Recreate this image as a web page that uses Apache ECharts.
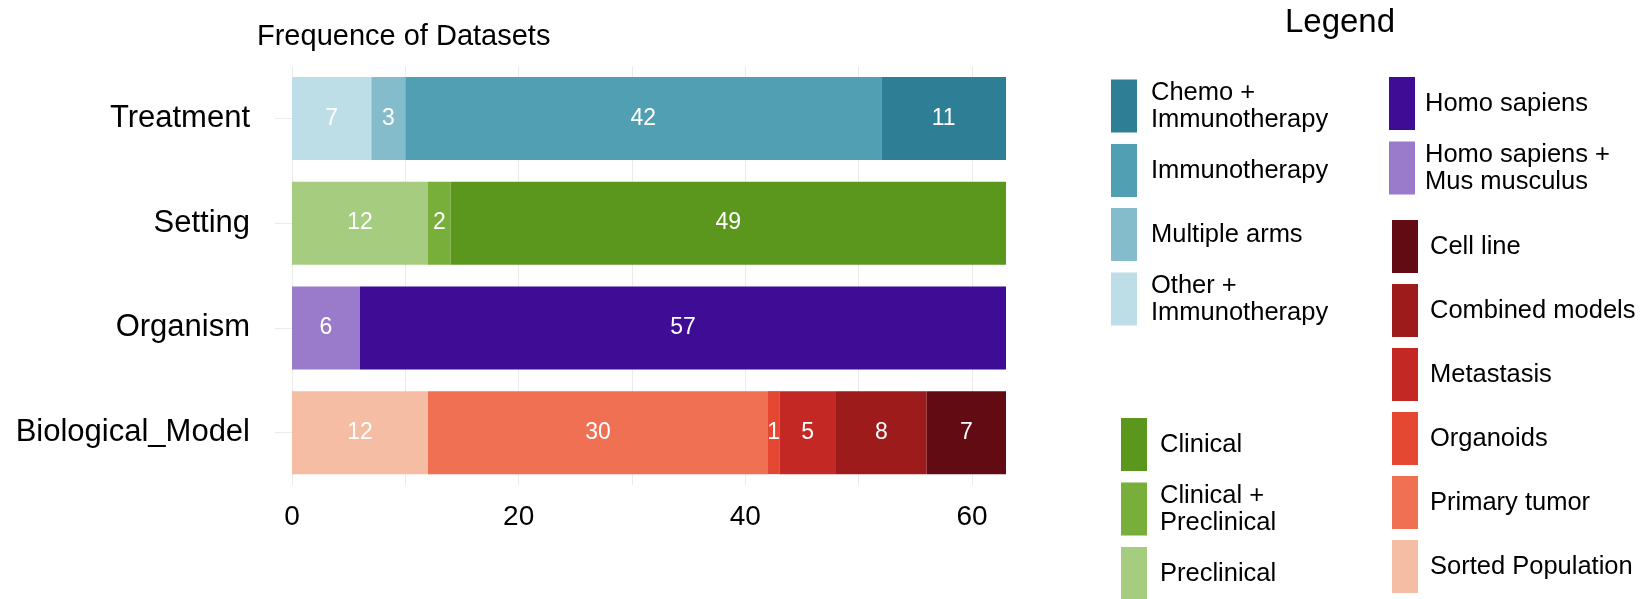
<!DOCTYPE html>
<html>
<head>
<meta charset="utf-8">
<script src="https://cdn.jsdelivr.net/npm/echarts@6/dist/echarts.min.js"></script>
<style>
  html, body { margin: 0; padding: 0; background: #fff; }
  #main { width: 1647px; height: 599px; }
</style>
</head>
<body>
<div id="main"></div>
<script>
// categories, bottom to top
var categories = ['Biological_Model', 'Organism', 'Setting', 'Treatment'];

// levels left to right inside each bar
var treatmentLevels = ['Other + Immunotherapy', 'Multiple arms', 'Immunotherapy', 'Chemo + Immunotherapy'];
var treatmentCounts = [7, 3, 42, 11];
var treatmentColors = ['#bddee6', '#85bccb', '#519fb3', '#2e7f96'];

var settingLevels = ['Preclinical', 'Clinical + Preclinical', 'Clinical'];
var settingCounts = [12, 2, 49];
var settingColors = ['#a6cc80', '#78ae3a', '#5a971c'];

var organismLevels = ['Homo sapiens + Mus musculus', 'Homo sapiens'];
var organismCounts = [6, 57];
var organismColors = ['#9a7bcb', '#3f0c96'];

var modelLevels = ['Sorted Population', 'Primary tumor', 'Organoids', 'Metastasis', 'Combined models', 'Cell line'];
var modelCounts = [12, 30, 1, 5, 8, 7];
var modelColors = ['#f6bda5', '#f07053', '#e44732', '#c42825', '#9e1b1c', '#630b12'];

var xTicks = [0, 20, 40, 60];

var groups = [
  {cat: 'Treatment', levels: treatmentLevels, counts: treatmentCounts, colors: treatmentColors},
  {cat: 'Setting', levels: settingLevels, counts: settingCounts, colors: settingColors},
  {cat: 'Organism', levels: organismLevels, counts: organismCounts, colors: organismColors},
  {cat: 'Biological_Model', levels: modelLevels, counts: modelCounts, colors: modelColors}
];

var series = [];
groups.forEach(function (g) {
  var idx = categories.indexOf(g.cat);
  g.levels.forEach(function (name, i) {
    var data = categories.map(function () { return null; });
    data[idx] = g.counts[i];
    series.push({
      name: name,
      type: 'bar',
      stack: 'total',
      data: data,
      barWidth: 83,
      itemStyle: {color: g.colors[i]},
      label: {
        show: true,
        position: 'inside',
        color: '#fff',
        fontSize: 23,
        fontFamily: 'Liberation Sans'
      }
    });
  });
});

function wrap(name) { return name.replace(' + ', ' +\n'); }

function legendFor(levels, left, top, padLeft) {
  return {
    orient: 'vertical',
    left: left,
    top: top,
    height: 420,
    padding: 0,
    itemWidth: 26,
    itemHeight: 53,
    itemGap: 11,
    icon: 'rect',
    selectedMode: false,
    data: levels.slice().reverse(),
    formatter: wrap,
    textStyle: {
      fontSize: 25.5,
      lineHeight: 27,
      color: '#000',
      fontFamily: 'Liberation Sans',
      padding: [0, 0, 0, padLeft]
    }
  };
}

var option = {
  animation: false,
  backgroundColor: '#fff',
  title: [
    {
      text: 'Frequence of Datasets',
      left: 257, top: 22, padding: 0,
      textStyle: {fontSize: 29, fontWeight: 'normal', color: '#000', fontFamily: 'Liberation Sans'}
    },
    {
      text: 'Legend',
      left: 1340, top: 6, padding: 0, textAlign: 'center',
      textStyle: {fontSize: 33, fontWeight: 'normal', color: '#000', fontFamily: 'Liberation Sans'}
    }
  ],
  legend: [
    legendFor(treatmentLevels, 1111, 79, 9),
    legendFor(settingLevels, 1121, 418, 8),
    legendFor(organismLevels, 1389, 77, 5),
    legendFor(modelLevels, 1392, 220, 7)
  ],
  grid: {left: 292, right: 641, top: 66, bottom: 114, containLabel: false},
  xAxis: {
    type: 'value',
    min: 0,
    max: 63,
    interval: 10,
    axisLine: {show: false},
    axisTick: {show: false},
    splitLine: {show: true, showMaxLine: false, lineStyle: {color: '#ebebeb', width: 1}},
    axisLabel: {
      fontSize: 28,
      color: '#000',
      margin: 18,
      fontFamily: 'Liberation Sans',
      showMaxLabel: false,
      formatter: function (v) { return xTicks.indexOf(v) >= 0 ? String(v) : ''; }
    }
  },
  yAxis: {
    type: 'category',
    data: categories,
    axisLine: {show: false},
    axisTick: {show: true, alignWithLabel: true, length: 17, lineStyle: {color: '#ebebeb'}},
    splitLine: {show: false},
    axisLabel: {fontSize: 31, color: '#000', margin: 42, fontFamily: 'Liberation Sans'}
  },
  series: series
};

var myChart = echarts.init(document.getElementById('main'));
myChart.setOption(option);
</script>
</body>
</html>
